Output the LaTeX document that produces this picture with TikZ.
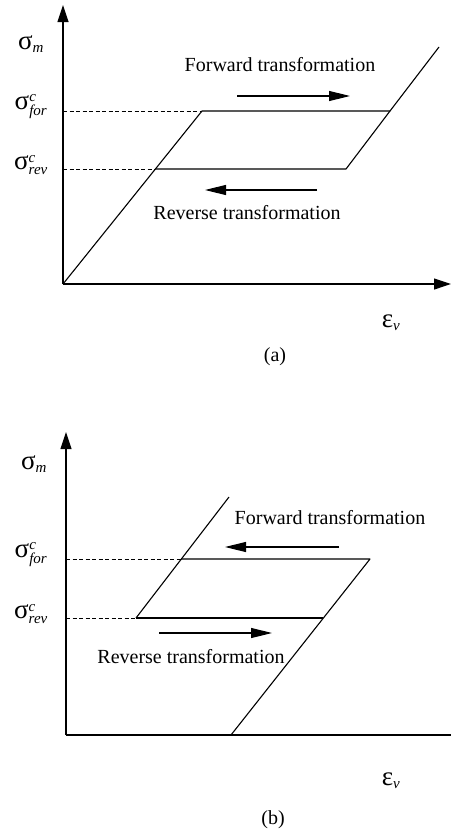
\documentclass[tikz,border=0pt]{standalone}
\usepackage{amsmath}
\usepackage{fontspec}
\setmainfont{Liberation Serif}
\usetikzlibrary{arrows.meta}
\newcommand{\glyph}[1]{{\fontsize{27}{27}\selectfont #1}}
\newcommand{\sml}[1]{\text{\fontsize{15}{15}\selectfont\itshape #1}}
\newcommand{\sgm}[2]{\glyph{σ}$^{\sml{#1}}_{\sml{#2}}$}
\begin{document}
\begin{tikzpicture}[x=1pt,y=-1pt,line join=round,font=\fontsize{20}{24}\selectfont,
  axis/.style={line width=1.2pt,-{Triangle[length=17pt,width=11pt]}},
  curve/.style={line width=1.1pt},
  dashline/.style={line width=0.7pt,dash pattern=on 4pt off 2.5pt},
  flow/.style={line width=1.1pt,-{Triangle[length=21pt,width=10pt]}}]
\useasboundingbox (0,0) rectangle (451,835);
% (a)
\coordinate (Oa) at (63,284);
\coordinate (Ya) at (63,5);
\coordinate (Xa) at (451,284);
\draw[axis] (Oa) -- (Ya);
\draw[axis] (Oa) -- (Xa);
\coordinate (fa1) at (202,111);
\coordinate (fa2) at (390,111);
\coordinate (ra1) at (155,169);
\coordinate (ra2) at (346,169);
\coordinate (ta) at (439,47);
\draw[curve] (Oa) -- (fa1) -- (fa2) -- (ta);
\draw[curve] (ra1) -- (ra2) -- (fa2);
\draw[dashline] (63,111) -- (fa1);
\draw[dashline] (63,169) -- (ra1);
\node (sma) at (31,44) {\glyph{σ}$_{\sml{m}}$};
\node (sfa) at (31,107) {\sgm{c}{for}};
\node (sra) at (31,165) {\sgm{c}{rev}};
\coordinate (fwa1) at (237,96);
\coordinate (fwa2) at (350,96);
\coordinate (rva1) at (317,190);
\coordinate (rva2) at (205,190);
\draw[flow] (fwa1) -- (fwa2);
\draw[flow] (rva1) -- (rva2);
\node (fwla) at (280,65) {Forward transformation};
\node (rvla) at (247,213) {Reverse transformation};
\node (eva) at (391,323) {\glyph{ε}$_{\sml{v}}$};
\node (capa) at (275,357) {(a)};
% (b)
\coordinate (Ob) at (66,735);
\coordinate (Yb) at (66,432);
\coordinate (Xb) at (451,735);
\draw[axis] (Ob) -- (Yb);
\draw[line width=1.2pt] (Ob) -- (Xb);
\coordinate (tb) at (229,497);
\coordinate (rb1) at (136,618);
\coordinate (rb2) at (323,618);
\coordinate (fb1) at (181,559);
\coordinate (fb2) at (370,559);
\coordinate (bb) at (231,735);
\draw[curve] (rb1) -- (tb);
\draw[curve] (fb1) -- (fb2) -- (bb);
\draw[curve] (rb1) -- (rb2);
\draw[dashline] (66,559) -- (fb1);
\draw[dashline] (66,618) -- (rb1);
\node (smb) at (34,464) {\glyph{σ}$_{\sml{m}}$};
\node (sfb) at (31,555) {\sgm{c}{for}};
\node (srb) at (31,614) {\sgm{c}{rev}};
\coordinate (fwb1) at (339,547);
\coordinate (fwb2) at (225,547);
\coordinate (rvb1) at (159,633);
\coordinate (rvb2) at (272,633);
\draw[flow] (fwb1) -- (fwb2);
\draw[flow] (rvb1) -- (rvb2);
\node (fwlb) at (330,518) {Forward transformation};
\node (rvlb) at (191,657) {Reverse transformation};
\node (evb) at (391,781) {\glyph{ε}$_{\sml{v}}$};
\node (capb) at (273,820) {(b)};
\end{tikzpicture}
\end{document}
